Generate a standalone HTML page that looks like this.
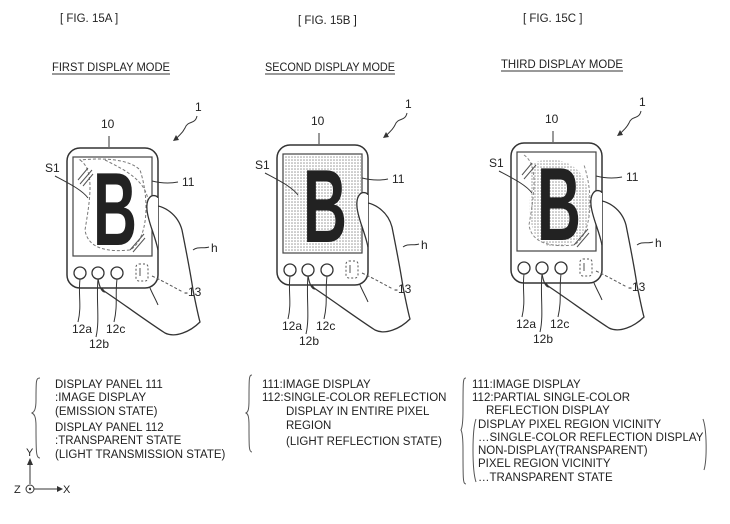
<!DOCTYPE html>
<html><head><style>
body{margin:0;background:#fff;}
svg{display:block;}
text{font-family:"Liberation Sans",sans-serif;fill:#222;}
.t{font-size:11.5px;}
</style></head><body>
<svg width="730" height="524" viewBox="0 0 730 524">
<defs>
<pattern id="dots" width="3" height="3" patternUnits="userSpaceOnUse"><rect width="3" height="3" fill="#fff"/><circle cx="1" cy="1" r="0.8" fill="#999"/></pattern>
<g id="hand">
  <path d="M150 205 C165 205 178 215 182 230 C186 250 190 270 193 290 C196 305 198 315 200 322 C190 332 175 338 165 333 C145 320 125 305 104 291 L100 286" fill="#fff" stroke="#333" stroke-width="1.3"/>
</g>
<g id="phonebody">
  <rect x="67" y="148" width="91" height="140" rx="13" fill="#fff" stroke="#333" stroke-width="1.5"/>
  <rect x="73" y="157" width="79" height="99" fill="none" stroke="#444" stroke-width="1.2"/>
  <circle cx="80" cy="273" r="6" fill="none" stroke="#333" stroke-width="1.3"/>
  <circle cx="98" cy="273" r="6" fill="none" stroke="#333" stroke-width="1.3"/>
  <circle cx="117" cy="273" r="6" fill="none" stroke="#333" stroke-width="1.3"/>
  <rect x="136" y="264" width="12" height="17" rx="3" fill="none" stroke="#555" stroke-dasharray="2,2"/>
  <path d="M140 268 v8" stroke="#555" stroke-width="1"/>
  <path d="M98 279 C100 290 103 292 105 292" fill="none" stroke="#333" stroke-width="1.2"/>
</g>
<g id="labels">
  <path d="M150 288 C153 295 156 300 158 305" fill="none" stroke="#333" stroke-width="1"/>
  <path d="M109 136 V147" stroke="#333"/>
  <text x="101" y="128" font-size="12">10</text>
  <text x="195" y="111" font-size="12">1</text>
  <path d="M197 116 C195 125 188 120 185 128 C182 134 180 134 176 139" fill="none" stroke="#333"/>
  <path d="M173 141 l3 -6 l3 5 z" fill="#333"/>
  <text x="45" y="172" font-size="12">S1</text>
  <path d="M55 176 C70 184 82 190 88 198" fill="none" stroke="#333"/>
  <path d="M152 181 C160 183 168 184 178 182" fill="none" stroke="#333"/>
  <text x="182" y="186" font-size="12">11</text>
  <path d="M193 250 C198 246 203 249 209 247" fill="none" stroke="#333"/>
  <text x="211" y="252" font-size="12">h</text>
  <path d="M152 276 C165 282 175 288 183 292" fill="none" stroke="#555" stroke-dasharray="3,2"/>
  <text x="184" y="296" font-size="12">-13</text>
  <path d="M80 279 C78 295 82 305 78 322" fill="none" stroke="#333"/>
  <path d="M98 279 C96 300 100 320 96 337" fill="none" stroke="#333"/>
  <path d="M117 279 C115 295 118 305 114 322" fill="none" stroke="#333"/>
  <text x="72" y="333" font-size="12">12a</text>
  <text x="89" y="348" font-size="12">12b</text>
  <text x="106" y="333" font-size="12">12c</text>
</g>
<g id="thumb">
  <path d="M158 250 C155 235 148 222 147 210 C146 200 150 194 156 196 C158 197 158 198 158 198" fill="#fff" stroke="#333" stroke-width="1.3"/>
</g>
<g id="Bletter">
  <text x="93" y="245" font-size="104" font-weight="bold" fill="#1a1a1a" textLength="44" lengthAdjust="spacingAndGlyphs">B</text>
</g>
</defs>

<text x="60" y="22" class="t">[ FIG. 15A ]</text>
<text x="298" y="24" class="t">[ FIG. 15B ]</text>
<text x="523" y="22" class="t">[ FIG. 15C ]</text>
<text x="52" y="71" font-size="12" textLength="118" lengthAdjust="spacingAndGlyphs">FIRST DISPLAY MODE</text>
<path d="M52 74 H170" stroke="#333"/>
<text x="265" y="71" font-size="12" textLength="130" lengthAdjust="spacingAndGlyphs">SECOND DISPLAY MODE</text>
<path d="M265 74 H395" stroke="#333"/>
<text x="501" y="68" font-size="12" textLength="122" lengthAdjust="spacingAndGlyphs">THIRD DISPLAY MODE</text>
<path d="M501 71 H623" stroke="#333"/>

<use href="#hand"/>
<use href="#phonebody"/>
<path d="M80 160 C95 170 90 200 85 230 C88 250 110 252 130 250 C148 240 150 200 140 170 C128 158 100 158 80 160Z" fill="none" stroke="#777" stroke-dasharray="3,2"/>
<path d="M105 160 C125 170 145 180 148 200" fill="none" stroke="#777" stroke-dasharray="3,2"/>
<path d="M78 180 l10 -12 M80 184 l12 -14 M83 186 l10 -12 M130 250 l14 -16 M133 252 l12 -14" stroke="#555"/>
<use href="#Bletter"/>
<use href="#thumb"/>
<use href="#labels"/>

<g transform="translate(210,-3)">
  <use href="#hand"/>
  <use href="#phonebody"/>
  <rect x="74" y="158" width="77" height="97" fill="url(#dots)"/>
  <use href="#Bletter"/>
  <use href="#thumb"/>
  <use href="#labels"/>
</g>

<g transform="translate(444,-5)">
  <use href="#hand"/>
  <use href="#phonebody"/>
  <path d="M88 168 C110 160 140 165 145 200 C148 230 140 250 110 252 C88 250 84 225 86 200 C86 185 86 175 88 168Z" fill="url(#dots)"/>
  <path d="M80 160 C95 170 90 200 85 230 C88 250 110 252 130 250 C148 240 150 200 140 170" fill="none" stroke="#888" stroke-dasharray="3,2"/>
  <path d="M78 180 l10 -12 M80 184 l12 -14 M130 250 l14 -16 M133 252 l12 -14" stroke="#555"/>
  <use href="#Bletter"/>
  <use href="#thumb"/>
  <use href="#labels"/>
</g>

<g font-size="11.5">
<path d="M40 378 C36 378 36 380 36 400 C36 410 34 412 32 413 C34 414 36 416 36 426 C36 452 36 458 40 458" fill="none" stroke="#555"/>
<text x="55" y="388">DISPLAY PANEL 111</text>
<text x="55" y="401">:IMAGE DISPLAY</text>
<text x="55" y="415">(EMISSION STATE)</text>
<text x="55" y="431">DISPLAY PANEL 112</text>
<text x="55" y="444">:TRANSPARENT STATE</text>
<text x="55" y="458">(LIGHT TRANSMISSION STATE)</text>

<path d="M252 375 C249 375 249 378 249 400 C249 410 248 412 246 413 C248 414 249 416 249 426 C249 448 249 452 252 452" fill="none" stroke="#555"/>
<text x="262" y="388">111:IMAGE DISPLAY</text>
<text x="262" y="401">112:SINGLE-COLOR REFLECTION</text>
<text x="286" y="415">DISPLAY IN ENTIRE PIXEL</text>
<text x="286" y="429">REGION</text>
<text x="286" y="445">(LIGHT REFLECTION STATE)</text>

<path d="M466 378 C463 378 463 380 463 410 C463 425 462 428 461 430 C462 432 463 436 463 450 C463 480 463 484 466 484" fill="none" stroke="#555"/>
<text x="472" y="388">111:IMAGE DISPLAY</text>
<text x="472" y="401">112:PARTIAL SINGLE-COLOR</text>
<text x="486" y="414">REFLECTION DISPLAY</text>
<text x="478" y="428">DISPLAY PIXEL REGION VICINITY</text>
<text x="478" y="441">…SINGLE-COLOR REFLECTION DISPLAY</text>
<text x="478" y="454">NON-DISPLAY(TRANSPARENT)</text>
<text x="478" y="467">PIXEL REGION VICINITY</text>
<text x="478" y="481">…TRANSPARENT STATE</text>
<path d="M476 419 C472 430 472 470 476 482" fill="none" stroke="#555"/>
<path d="M703 419 C707 430 707 460 704 470" fill="none" stroke="#555"/>
</g>

<text x="26" y="456" font-size="11">Y</text>
<path d="M30 459 V484" stroke="#333"/>
<path d="M27 465 l3 -7 l3 7z" fill="#333"/>
<text x="14" y="493" font-size="11">Z</text>
<circle cx="30" cy="489" r="4" fill="none" stroke="#333"/>
<circle cx="30" cy="489" r="1.2" fill="#333"/>
<path d="M34 489 H58" stroke="#333"/>
<path d="M57 486 l6 3 l-6 3z" fill="#333"/>
<text x="63" y="493" font-size="11">X</text>
</svg>
</body></html>
